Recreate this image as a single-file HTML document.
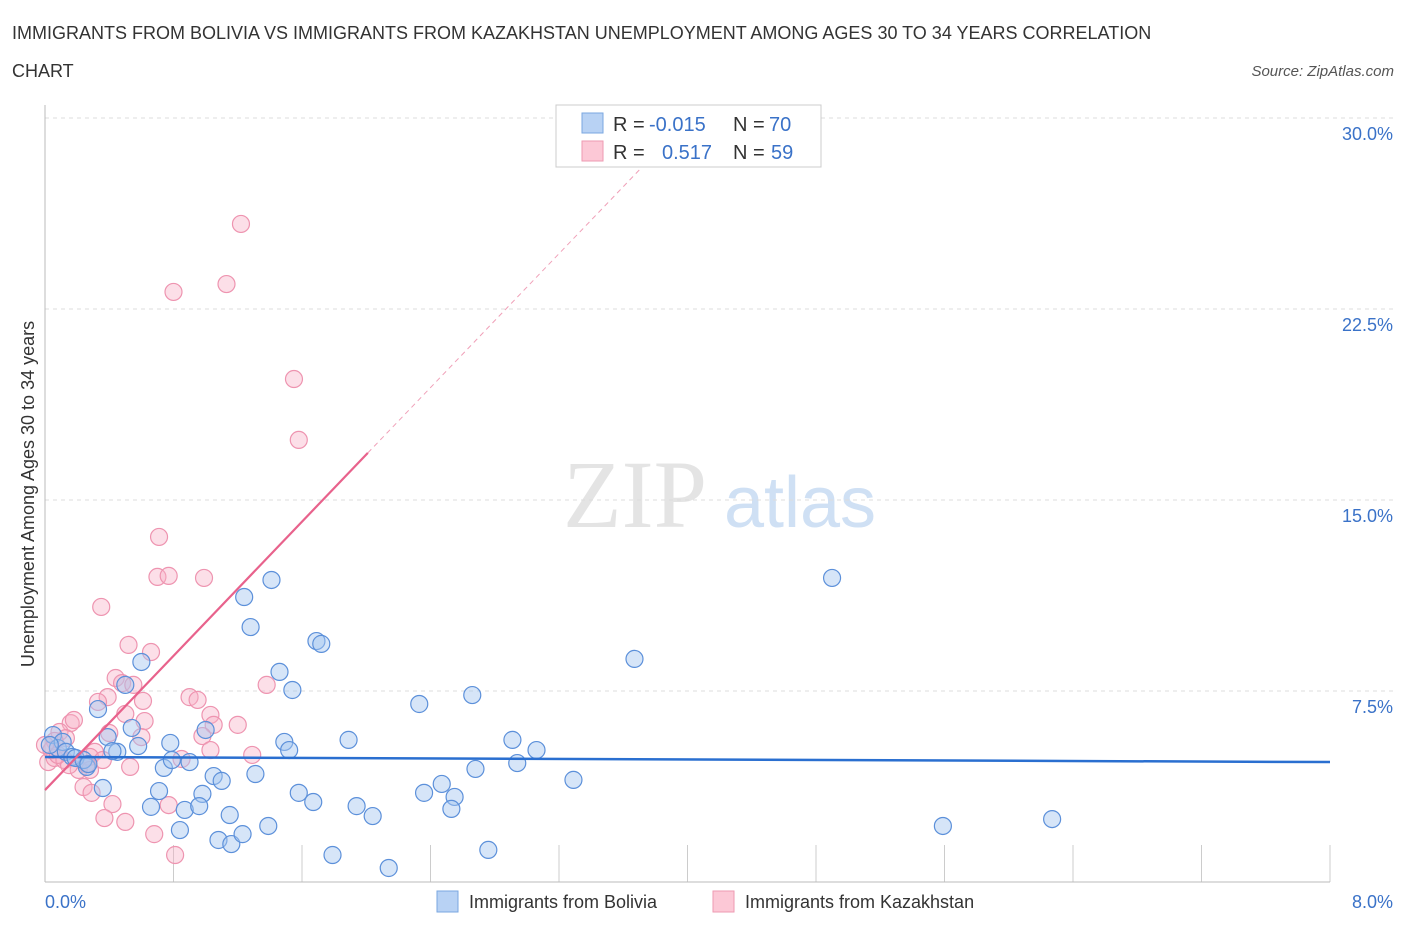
<!DOCTYPE html>
<html><head><meta charset="utf-8"><style>
body{margin:0;background:#fff;font-family:"Liberation Sans",sans-serif;}
</style></head><body>
<svg width="1406" height="930" xmlns="http://www.w3.org/2000/svg">
<text x="12" y="39" font-size="18" fill="#333">IMMIGRANTS FROM BOLIVIA VS IMMIGRANTS FROM KAZAKHSTAN UNEMPLOYMENT AMONG AGES 30 TO 34 YEARS CORRELATION</text>
<text x="12" y="77" font-size="18" fill="#333">CHART</text>
<text x="1394" y="76" font-size="15" fill="#555" font-style="italic" text-anchor="end">Source: ZipAtlas.com</text>
<text x="635" y="527" font-size="96" fill="#e4e4e4" text-anchor="middle" font-family="Liberation Serif">ZIP</text>
<text x="800" y="527" font-size="72" fill="#cfe0f4" text-anchor="middle">atlas</text>
<g id="grid"></g>
<line x1="45" y1="105" x2="45" y2="882" stroke="#bbb"/>
<line x1="45" y1="882" x2="1330" y2="882" stroke="#bbb"/>
<text transform="translate(34,494) rotate(-90)" font-size="18" fill="#333" text-anchor="middle">Unemployment Among Ages 30 to 34 years</text>
<text x="45" y="908" font-size="18" fill="#3a72c8">0.0%</text>
<text x="1393" y="908" font-size="18" fill="#3a72c8" text-anchor="end">8.0%</text>
<g id="pts"></g>
<g id="lines"></g>
<g>
<rect x="556" y="105" width="265" height="62" fill="#fff" stroke="#ccc"/>
<rect x="582" y="113" width="21" height="20" fill="#b8d2f4" stroke="#7aa7e0"/>
<rect x="582" y="141" width="21" height="20" fill="#fcc8d6" stroke="#ee9ab2"/>
<text x="613" y="131" font-size="20" fill="#333">R = </text><text x="649" y="131" font-size="20" fill="#3a72c8">-0.015</text>
<text x="733" y="131" font-size="20" fill="#333">N = </text><text x="769" y="131" font-size="20" fill="#3a72c8">70</text>
<text x="613" y="159" font-size="20" fill="#333">R = </text><text x="662" y="159" font-size="20" fill="#3a72c8">0.517</text>
<text x="733" y="159" font-size="20" fill="#333">N = </text><text x="771" y="159" font-size="20" fill="#3a72c8">59</text>
</g>
<g>
<rect x="437" y="891" width="21" height="21" fill="#b8d2f4" stroke="#7aa7e0"/>
<text x="469" y="908" font-size="18" fill="#333">Immigrants from Bolivia</text></g>
<g>
<rect x="713" y="891" width="21" height="21" fill="#fcc8d6" stroke="#ee9ab2"/>
<text x="745" y="908" font-size="18" fill="#333">Immigrants from Kazakhstan</text></g>
</svg>
<script>
const yTicks=[7.5,15,22.5,30];
const yTickLabels=["7.5%","15.0%","22.5%","30.0%"];
const xTicks=[0.8,1.6,2.4,3.2,4.0,4.8,5.6,6.4,7.2,8.0];
const boliviaX=[4.90,1.41,1.24,1.28,0.60,1.69,1.72,1.46,1.54,3.67,2.66,2.33,0.50,0.33,0.39,0.54,0.58,0.45,0.78,1.49,1.52,1.89,2.91,3.06,2.94,2.68,3.29,5.59,6.27,0.74,1.05,1.10,1.31,0.26,0.36,0.71,0.98,0.66,0.87,0.96,1.15,1.58,1.67,2.36,2.47,2.55,2.53,1.94,2.04,0.84,1.08,1.16,1.23,1.39,1.79,2.14,2.76,0.05,0.08,0.11,0.13,0.03,0.17,0.19,0.24,0.27,0.79,0.90,1.00,0.42];
const boliviaY=[11.94,11.86,11.19,10.01,8.64,9.46,9.35,8.25,7.54,8.76,7.34,6.99,7.74,6.79,5.69,6.05,5.34,5.11,5.46,5.50,5.18,5.58,5.58,5.18,4.67,4.44,4.01,2.20,2.47,4.48,4.16,3.97,4.24,4.52,3.69,3.57,3.46,2.95,2.83,2.98,2.63,3.50,3.14,3.50,3.85,3.34,2.87,2.98,2.59,2.04,1.65,1.49,1.88,2.20,1.06,0.55,1.26,5.77,5.26,5.50,5.11,5.38,4.91,4.87,4.79,4.63,4.79,4.71,5.97,5.14];
const kazX=[1.22,0.80,1.13,1.55,1.58,0.71,0.70,0.77,0.99,0.35,0.52,0.66,0.44,0.48,0.55,0.39,0.61,0.33,0.90,0.95,1.38,0.50,0.62,1.03,1.05,1.20,0.16,0.18,0.09,0.13,0.06,0.40,0.60,0.98,0.85,1.03,1.29,0.53,0.31,0.28,0.24,0.29,0.42,0.77,0.37,0.50,0.68,0.81,0.02,0.06,0.12,0.21,0.26,0.04,0.00,0.15,0.28,0.36,0.08];
const kazY=[25.84,23.17,23.48,19.75,17.36,13.55,11.98,12.02,11.94,10.80,9.31,9.03,8.01,7.81,7.74,7.26,7.11,7.07,7.26,7.15,7.74,6.60,6.32,6.56,6.17,6.17,6.24,6.36,5.89,5.65,5.54,5.85,5.69,5.73,4.83,5.18,4.99,4.52,5.11,4.91,3.73,3.50,3.06,3.02,2.51,2.36,1.88,1.06,4.71,4.87,4.79,4.40,4.63,5.18,5.38,4.59,4.40,4.79,4.99];
const boliviaTrend=[4.91,4.71];
const kazTrend=[3.61,16.85,27.96];
const kazTrendX=[0,2.01,3.70];
const NS="http://www.w3.org/2000/svg";
const sx=v=>45+v/8*1285, sy=v=>882-v/30*764;
function mk(t,a,p){const e=document.createElementNS(NS,t);for(const k in a)e.setAttribute(k,a[k]);p.appendChild(e);return e;}
const grid=document.getElementById('grid');
yTicks.forEach((t,i)=>{
 const l=mk('line',{x1:45,x2:1395,y1:sy(t),y2:sy(t),stroke:'#ddd','stroke-dasharray':'4,4'},grid);
 
 
 const tx=mk('text',{x:1393,y:sy(t)+22,'font-size':18,fill:'#3a72c8','text-anchor':'end'},grid);
 tx.textContent=yTickLabels[i];
 
 
});
xTicks.forEach(t=>{
 const l=mk('line',{x1:sx(t),x2:sx(t),y1:845,y2:882,stroke:'#ccc'},grid);
 
 
});
const pts=document.getElementById('pts');
kazX.forEach((x,i)=>{
 const c=mk('circle',{cx:sx(x),cy:sy(kazY[i]),r:8.5,fill:'rgba(248,175,198,0.4)',stroke:'#ee94b0','stroke-width':1.2},pts);
 
 
});
boliviaX.forEach((x,i)=>{
 const c=mk('circle',{cx:sx(x),cy:sy(boliviaY[i]),r:8.5,fill:'rgba(165,198,240,0.45)',stroke:'#5c90da','stroke-width':1.2},pts);
 
 
});
const lines=document.getElementById('lines');
let b=mk('line',{x1:sx(0),y1:sy(boliviaTrend[0]),x2:sx(8),y2:sy(boliviaTrend[1]),stroke:'#2a6fd0','stroke-width':2.5},lines);


let k=mk('line',{x1:sx(kazTrendX[0]),y1:sy(kazTrend[0]),x2:sx(kazTrendX[1]),y2:sy(kazTrend[1]),stroke:'#e8628c','stroke-width':2.2},lines);


let kd=mk('line',{x1:sx(kazTrendX[1]),y1:sy(kazTrend[1]),x2:sx(kazTrendX[2]),y2:sy(kazTrend[2]),stroke:'#f0a0b8','stroke-width':1,'stroke-dasharray':'5,4'},lines);


</script>
</body></html>
